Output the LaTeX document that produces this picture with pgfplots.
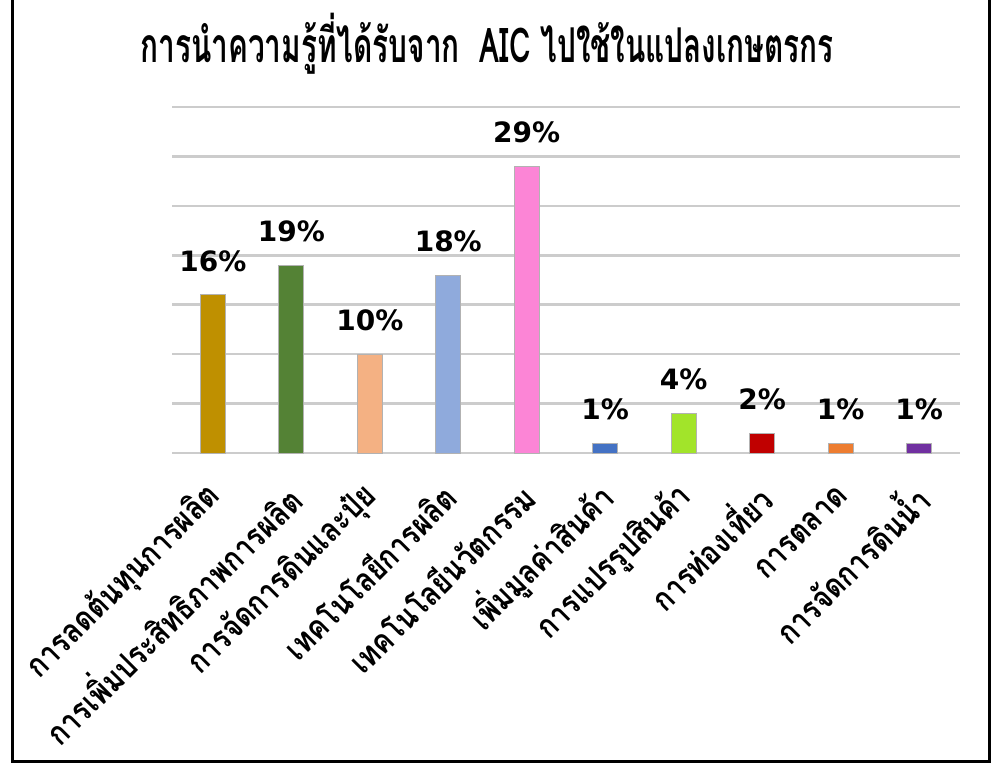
\documentclass[border=0pt]{standalone}
\usepackage{pgfplots}
\pgfplotsset{compat=1.18}
\usepackage{graphicx}
\usepackage{fontspec}
\setmainfont{DejaVu Sans}
\newfontfamily\thaifont[Script=Thai]{Loma}
\newcommand{\TL}[1]{\scalebox{0.93}[1.1]{#1}}
\definecolor{c1}{HTML}{BF9000}
\definecolor{c2}{HTML}{548235}
\definecolor{c3}{HTML}{F4B183}
\definecolor{c4}{HTML}{8FAADC}
\definecolor{c5}{HTML}{FC85D6}
\definecolor{c6}{HTML}{4472C4}
\definecolor{c7}{HTML}{A2E42A}
\definecolor{c8}{HTML}{C00000}
\definecolor{c9}{HTML}{ED7D31}
\definecolor{c10}{HTML}{7030A0}
\pgfplotsset{
  onebar/.style={ybar, bar shift=0pt, bar width=12.5pt, draw=gray!60, line width=0.4pt, fill=#1,
    nodes near coords={\pgfmathprintnumber{\pgfplotspointmeta}\%},
    nodes near coords style={anchor=center, yshift=17pt, text=black, font=\bfseries\fontsize{14}{15}\selectfont}}
}
\begin{document}
\begin{tikzpicture}
\useasboundingbox (0,0) rectangle (500pt,-382.5pt);
\draw[line width=1.5pt] (6pt,0) -- (6pt,-380.5pt) -- (494.5pt,-380.5pt) -- (494.5pt,0);
\node at (243.5pt,-22pt) {\scalebox{0.62}[1.0]{\thaifont\bfseries\fontsize{24}{28}\selectfont การนำความรู้ที่ได้รับจาก\ \ AIC ไปใช้ในแปลงเกษตรกร}};
\begin{axis}[at={(86pt,-226.5pt)}, anchor=south west, scale only axis,
  width=394pt, height=173pt,
  xmin=-0.52, xmax=9.52, ymin=0, ymax=35,
  /pgf/number format/assume math mode=true,
  ytick={0,5,...,35}, yticklabels={}, ymajorgrids,
  grid style={line width=1.3pt, color=gray!40},
  axis line style={draw=none}, tick style={draw=none},
  xtick={0,...,9},
  xticklabels={\TL{การลดต้นทุนการผลิต}, \TL{การเพิ่มประสิทธิภาพการผลิต}, \TL{การจัดการดินและปุ๋ย}, \TL{เทคโนโลยีการผลิต}, \TL{เทคโนโลยีนวัตกรรม}, \TL{เพิ่มมูลค่าสินค้า}, \TL{การแปรรูปสินค้า}, \TL{การท่องเที่ยว}, \TL{การตลาด}, \TL{การจัดการดินน้ำ}},
  xticklabel style={font=\thaifont\bfseries\fontsize{15}{18}\selectfont, xshift=1pt, yshift=-19pt, rotate=45, anchor=east, inner sep=0pt},
  clip=false]
\addplot[onebar=c1] coordinates {(0,16)};
\addplot[onebar=c2] coordinates {(1,19)};
\addplot[onebar=c3] coordinates {(2,10)};
\addplot[onebar=c4] coordinates {(3,18)};
\addplot[onebar=c5] coordinates {(4,29)};
\addplot[onebar=c6] coordinates {(5,1)};
\addplot[onebar=c7] coordinates {(6,4)};
\addplot[onebar=c8] coordinates {(7,2)};
\addplot[onebar=c9] coordinates {(8,1)};
\addplot[onebar=c10] coordinates {(9,1)};
\end{axis}
\end{tikzpicture}
\end{document}
